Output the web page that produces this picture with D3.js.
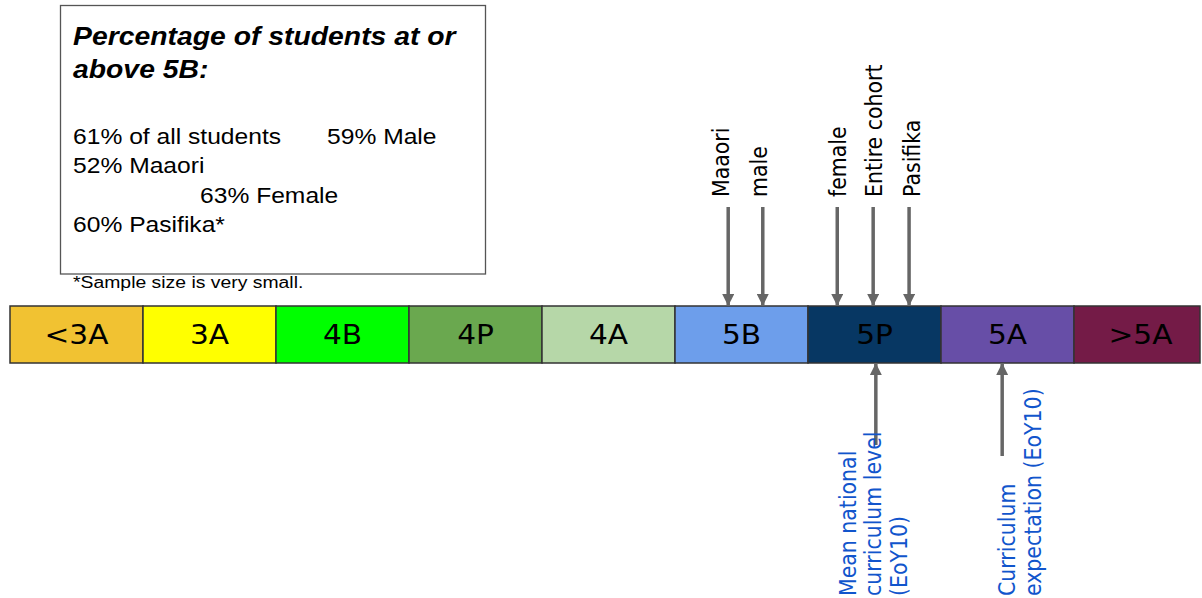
<!DOCTYPE html>
<html>
<head>
<meta charset="utf-8">
<script src="https://cdn.jsdelivr.net/npm/d3@7"></script>
<style>
  html, body { margin: 0; padding: 0; background: #fff; }
  svg { display: block; }
</style>
</head>
<body>
<script>
// ---------- DATA ----------
const levels = ["<3A", "3A", "4B", "4P", "4A", "5B", "5P", "5A", ">5A"];
// group positions on the continuous level scale (band i spans [i, i+1])
const groupNames = ["Maaori", "male", "female", "Entire cohort", "Pasifika"];
const groupLevels = [5.40, 5.66, 6.22, 6.49, 6.76];
// reference markers below the bar
const refNames = [["Mean national", "curriculum level", "(EoY10)"], ["Curriculum", "expectation (EoY10)"]];
const refLevels = [6.51, 7.46];
// summary box
const boxTitle = ["Percentage of students at or", "above 5B:"];
const boxLines = ["61% of all students", "59% Male", "52% Maaori", "63% Female", "60% Pasifika*"];
const footnote = "*Sample size is very small.";

// ---------- STYLE ----------
const levelColors = ["#f1c232", "#ffff00", "#00ff00", "#6aa84f", "#b6d7a8", "#6d9eeb", "#073763", "#674ea7", "#741b47"];
const W = 1202, H = 598;
const arrowColor = "#666666";
const blue = "#1155cc";
const SX = 1.12; // horizontal stretch of the original slide

const svg = d3.select("body").append("svg").attr("width", W).attr("height", H);

const x = d3.scaleLinear().domain([0, levels.length]).range([10, 10 + 133 * levels.length]);
const barTop = 306, barBot = 363, rightEdge = 1200;

// ---------- BAR ----------
const bands = svg.append("g");
bands.selectAll("rect").data(levels).join("rect")
  .attr("x", (d, i) => x(i))
  .attr("y", barTop)
  .attr("width", (d, i) => Math.min(x(i + 1), rightEdge) - x(i))
  .attr("height", barBot - barTop)
  .attr("fill", (d, i) => levelColors[i])
  .attr("stroke", "#333")
  .attr("stroke-width", 1.5);
bands.selectAll("text").data(levels).join("text")
  .attr("transform", (d, i) => `translate(${(x(i) + Math.min(x(i + 1), rightEdge + 8)) / 2},${(barTop + barBot) / 2 + 1}) scale(1.14,1)`)
  .attr("text-anchor", "middle")
  .attr("dominant-baseline", "central")
  .attr("font-family", "DejaVu Sans")
  .attr("font-size", 26)
  .attr("fill", "#000")
  .text(d => d);

// ---------- ARROWS ----------
const defs = svg.append("defs");
defs.append("marker").attr("id", "ah")
  .attr("viewBox", "0 0 12 12").attr("refX", 11).attr("refY", 6)
  .attr("markerWidth", 12).attr("markerHeight", 12).attr("markerUnits", "userSpaceOnUse")
  .attr("orient", "auto")
  .append("path").attr("d", "M0,0 L12,6 L0,12 Z").attr("fill", arrowColor);

const gTop = svg.append("g");
gTop.selectAll("line").data(groupLevels).join("line")
  .attr("x1", d => x(d)).attr("x2", d => x(d))
  .attr("y1", 207).attr("y2", barTop - 1)
  .attr("stroke", arrowColor).attr("stroke-width", 3.5)
  .attr("marker-end", "url(#ah)");
const labelDx = [1, 4, 9, 9, 11];
gTop.selectAll("text").data(groupNames).join("text")
  .attr("transform", (d, i) => `translate(${x(groupLevels[i]) + labelDx[i]},197) scale(${SX},1) rotate(-90)`)
  .attr("font-family", "DejaVu Sans")
  .attr("font-size", 20.5)
  .attr("fill", "#000")
  .text(d => d);

const gBot = svg.append("g");
gBot.selectAll("line").data(refLevels).join("line")
  .attr("x1", d => x(d)).attr("x2", d => x(d))
  .attr("y1", (d, i) => [445, 456][i]).attr("y2", barBot + 1)
  .attr("stroke", arrowColor).attr("stroke-width", 3.5)
  .attr("marker-end", "url(#ah)");
const refOffsets = [-20, 13];
refNames.forEach((lines, i) => {
  lines.forEach((t, j) => {
    gBot.append("text")
      .attr("transform", `translate(${x(refLevels[i]) + refOffsets[i] + j * 25.5},596) scale(${SX},1) rotate(-90)`)
      .attr("font-family", "DejaVu Sans")
      .attr("font-size", 20.5)
      .attr("fill", blue)
      .text(t);
  });
});

// ---------- SUMMARY BOX ----------
const box = svg.append("g");
box.append("rect").attr("x", 60.5).attr("y", 5.5).attr("width", 425).attr("height", 268.5)
  .attr("fill", "#fff").attr("stroke", "#555").attr("stroke-width", 1.3);
function stretchText(g, tx, ty, str, size, weight, style) {
  g.append("text")
    .attr("transform", `translate(${tx},${ty}) scale(${SX},1)`)
    .attr("font-family", "Liberation Sans, Arial, sans-serif")
    .attr("font-size", size)
    .attr("font-weight", weight || "normal")
    .attr("font-style", style || "normal")
    .attr("fill", "#000")
    .text(str);
}
stretchText(box, 73, 45, boxTitle[0], 25.3, "bold", "italic");
stretchText(box, 73, 78, boxTitle[1], 25.3, "bold", "italic");
const linePos = [[73, 144], [327, 144], [73, 173], [200, 203], [73, 232]];
boxLines.forEach((t, i) => stretchText(box, linePos[i][0], linePos[i][1], t, 22));
stretchText(box, 73, 288, footnote, 17.3);
</script>
</body>
</html>
